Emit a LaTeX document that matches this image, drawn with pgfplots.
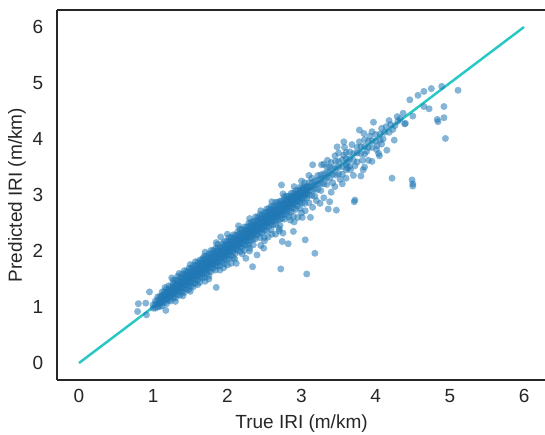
\documentclass[border=0pt]{standalone}
\usepackage{fontspec}
\setmainfont{Liberation Sans}
\usepackage{pgfplots}
\pgfplotsset{compat=1.18}
\definecolor{dotblue}{HTML}{1F77B4}
\definecolor{diag}{HTML}{2AC8C4}
\definecolor{ink}{HTML}{262626}
\begin{document}
\begin{tikzpicture}
\begin{axis}[
  scale only axis,
  width=489.5pt, height=369.6pt,
  xmin=-0.3, xmax=6.3,
  ymin=-0.3, ymax=6.3,
  xtick={0,1,...,6}, ytick={0,1,...,6},
  axis lines*=left,
  axis line style={ink, line width=2.5pt},
  major tick length=0pt,
  /pgf/number format/assume math mode=true,
  tick label style={font=\fontsize{19}{22}\selectfont, text=ink},
  label style={font=\fontsize{19}{22}\selectfont, text=ink},
  xticklabel style={yshift=-6pt},
  yticklabel style={xshift=-10pt},
  xlabel={True IRI (m/km)},
  ylabel={Predicted IRI (m/km)},
  xlabel style={yshift=-5pt},
  ylabel style={yshift=0pt},
  clip=false,
]
% scatter: true vs predicted
\addplot[only marks, color=dotblue, mark=*, mark size=3.5pt,
  mark options={draw opacity=0, fill=dotblue, fill opacity=0.55}] coordinates {
(1.00,0.98) (1.00,1.04) (1.03,0.98) (1.03,1.05) (1.03,1.11)
(1.06,1.00) (1.06,1.06) (1.06,1.12) (1.06,1.18)
(1.09,1.01) (1.09,1.07) (1.09,1.13) (1.09,1.19)
(1.12,1.02) (1.12,1.09) (1.12,1.15) (1.12,1.21) (1.12,1.27)
(1.15,1.08) (1.15,1.15) (1.15,1.21) (1.15,1.27)
(1.18,1.06) (1.18,1.13) (1.18,1.20) (1.18,1.26) (1.18,1.32)
(1.21,1.12) (1.21,1.19) (1.21,1.25) (1.21,1.31) (1.21,1.38)
(1.24,1.11) (1.24,1.18) (1.24,1.24) (1.24,1.30) (1.24,1.36)
(1.27,1.17) (1.27,1.24) (1.27,1.30) (1.27,1.36) (1.27,1.42) (1.27,1.48)
(1.30,1.16) (1.30,1.23) (1.30,1.30) (1.30,1.36) (1.30,1.42) (1.30,1.48)
(1.33,1.22) (1.33,1.29) (1.33,1.35) (1.33,1.41) (1.33,1.47) (1.33,1.55)
(1.36,1.21) (1.36,1.28) (1.36,1.35) (1.36,1.41) (1.36,1.47) (1.36,1.53)
(1.39,1.27) (1.39,1.34) (1.39,1.41) (1.39,1.47) (1.39,1.53) (1.39,1.59)
(1.42,1.26) (1.42,1.33) (1.42,1.40) (1.42,1.46) (1.42,1.52) (1.42,1.58) (1.42,1.65)
(1.45,1.32) (1.45,1.39) (1.45,1.46) (1.45,1.52) (1.45,1.58) (1.45,1.64)
(1.48,1.31) (1.48,1.38) (1.48,1.45) (1.48,1.51) (1.48,1.57) (1.48,1.63) (1.48,1.69)
(1.51,1.37) (1.51,1.44) (1.51,1.51) (1.51,1.57) (1.51,1.63) (1.51,1.69)
(1.54,1.36) (1.54,1.43) (1.54,1.50) (1.54,1.56) (1.54,1.62) (1.54,1.68) (1.54,1.74)
(1.57,1.42) (1.57,1.49) (1.57,1.56) (1.57,1.62) (1.57,1.68) (1.57,1.74) (1.57,1.81)
(1.60,1.48) (1.60,1.55) (1.60,1.62) (1.60,1.68) (1.60,1.74) (1.60,1.80)
(1.63,1.44) (1.63,1.53) (1.63,1.60) (1.63,1.66) (1.63,1.72) (1.63,1.78) (1.63,1.84)
(1.66,1.52) (1.66,1.59) (1.66,1.66) (1.66,1.72) (1.66,1.78) (1.66,1.84)
(1.69,1.53) (1.69,1.60) (1.69,1.67) (1.69,1.73) (1.69,1.79) (1.69,1.85) (1.69,1.91)
(1.72,1.59) (1.72,1.66) (1.72,1.73) (1.72,1.79) (1.72,1.85) (1.72,1.91)
(1.75,1.55) (1.75,1.64) (1.75,1.71) (1.75,1.77) (1.75,1.83) (1.75,1.89) (1.75,1.95)
(1.78,1.63) (1.78,1.70) (1.78,1.77) (1.78,1.83) (1.78,1.89) (1.78,1.95) (1.78,2.01)
(1.81,1.69) (1.81,1.76) (1.81,1.83) (1.81,1.89) (1.81,1.95) (1.81,2.01)
(1.84,1.66) (1.84,1.74) (1.84,1.81) (1.84,1.87) (1.84,1.93) (1.84,1.99) (1.84,2.05)
(1.87,1.73) (1.87,1.80) (1.87,1.87) (1.87,1.93) (1.87,1.99) (1.87,2.05) (1.87,2.12)
(1.90,1.74) (1.90,1.81) (1.90,1.88) (1.90,1.94) (1.90,2.00) (1.90,2.06)
(1.93,1.81) (1.93,1.88) (1.93,1.95) (1.93,2.01) (1.93,2.07) (1.93,2.13)
(1.96,1.77) (1.96,1.85) (1.96,1.92) (1.96,1.98) (1.96,2.04) (1.96,2.10) (1.96,2.17)
(1.99,1.85) (1.99,1.92) (1.99,1.99) (1.99,2.05) (1.99,2.11) (1.99,2.17)
(2.02,1.86) (2.02,1.93) (2.02,2.00) (2.02,2.06) (2.02,2.12) (2.02,2.18) (2.02,2.24)
(2.05,1.92) (2.05,1.99) (2.05,2.06) (2.05,2.12) (2.05,2.18) (2.05,2.24)
(2.08,1.88) (2.08,1.98) (2.08,2.05) (2.08,2.11) (2.08,2.17) (2.08,2.23) (2.08,2.29)
(2.11,1.96) (2.11,2.03) (2.11,2.10) (2.11,2.16) (2.11,2.22) (2.11,2.28)
(2.14,2.02) (2.14,2.09) (2.14,2.16) (2.14,2.22) (2.14,2.28) (2.14,2.34)
(2.17,1.99) (2.17,2.07) (2.17,2.14) (2.17,2.20) (2.17,2.26) (2.17,2.32) (2.17,2.39)
(2.20,2.06) (2.20,2.13) (2.20,2.20) (2.20,2.26) (2.20,2.32) (2.20,2.38)
(2.23,2.01) (2.23,2.11) (2.23,2.19) (2.23,2.25) (2.23,2.31) (2.23,2.37) (2.23,2.43)
(2.26,2.11) (2.26,2.18) (2.26,2.25) (2.26,2.31) (2.26,2.37) (2.26,2.43)
(2.29,2.11) (2.29,2.19) (2.29,2.26) (2.29,2.32) (2.29,2.38) (2.29,2.44) (2.29,2.50)
(2.32,2.19) (2.32,2.26) (2.32,2.33) (2.32,2.39) (2.32,2.45) (2.32,2.51)
(2.35,2.11) (2.35,2.21) (2.35,2.29) (2.35,2.35) (2.35,2.41) (2.35,2.47) (2.35,2.53)
(2.38,2.22) (2.38,2.29) (2.38,2.36) (2.38,2.42) (2.38,2.48) (2.38,2.54) (2.38,2.61)
(2.41,2.29) (2.41,2.36) (2.41,2.43) (2.41,2.49) (2.41,2.55) (2.41,2.61)
(2.44,2.24) (2.44,2.33) (2.44,2.40) (2.44,2.46) (2.44,2.52) (2.44,2.58) (2.44,2.65)
(2.47,2.32) (2.47,2.39) (2.47,2.46) (2.47,2.52) (2.47,2.58) (2.47,2.64)
(2.50,2.24) (2.50,2.37) (2.50,2.44) (2.50,2.51) (2.50,2.57) (2.50,2.63) (2.50,2.69)
(2.53,2.36) (2.53,2.44) (2.53,2.51) (2.53,2.57) (2.53,2.63) (2.53,2.69) (2.53,2.75)
(2.56,2.44) (2.56,2.51) (2.56,2.58) (2.56,2.64) (2.56,2.70) (2.56,2.76)
(2.59,2.38) (2.59,2.48) (2.59,2.55) (2.59,2.62) (2.59,2.68) (2.59,2.74) (2.59,2.80)
(2.62,2.47) (2.62,2.54) (2.62,2.61) (2.62,2.67) (2.62,2.73) (2.62,2.79)
(2.65,2.47) (2.65,2.55) (2.65,2.62) (2.65,2.68) (2.65,2.74) (2.65,2.80) (2.65,2.87)
(2.68,2.55) (2.68,2.62) (2.68,2.69) (2.68,2.75) (2.68,2.81) (2.68,2.87)
(2.71,2.46) (2.71,2.57) (2.71,2.65) (2.71,2.71) (2.71,2.77) (2.71,2.83) (2.71,2.89)
(2.74,2.58) (2.74,2.65) (2.74,2.72) (2.74,2.78) (2.74,2.84) (2.74,2.90)
(2.77,2.57) (2.77,2.66) (2.77,2.73) (2.77,2.79) (2.77,2.85) (2.77,2.91) (2.77,2.97)
(2.80,2.65) (2.80,2.73) (2.80,2.80) (2.80,2.86) (2.80,2.92) (2.80,2.98)
(2.83,2.61) (2.83,2.71) (2.83,2.79) (2.83,2.86) (2.83,2.92) (2.83,2.98)
(2.86,2.70) (2.86,2.78) (2.86,2.85) (2.86,2.91) (2.86,2.97) (2.86,3.03)
(2.89,2.62) (2.89,2.76) (2.89,2.84) (2.89,2.91) (2.89,2.97) (2.89,3.03)
(2.92,2.74) (2.92,2.83) (2.92,2.90) (2.92,2.96) (2.92,3.02) (2.92,3.08)
(2.95,2.81) (2.95,2.89) (2.95,2.96) (2.95,3.02) (2.95,3.08)
(2.98,2.76) (2.98,2.88) (2.98,2.95) (2.98,3.02) (2.98,3.08) (2.98,3.14)
(3.01,2.86) (3.01,2.94) (3.01,3.01) (3.01,3.07) (3.01,3.13)
(3.04,2.85) (3.04,2.95) (3.04,3.02) (3.04,3.09) (3.04,3.15) (3.04,3.22)
(3.07,2.94) (3.07,3.02) (3.07,3.09) (3.07,3.15)
(3.10,2.86) (3.10,3.00) (3.10,3.08) (3.10,3.15) (3.10,3.22)
(3.14,2.99) (3.14,3.08) (3.14,3.15) (3.14,3.22) (3.14,3.30)
(3.18,2.98) (3.18,3.10) (3.18,3.18) (3.18,3.25)
(3.22,3.10) (3.22,3.19) (3.22,3.27) (3.22,3.35)
(3.26,3.08) (3.26,3.20) (3.26,3.28) (3.26,3.36)
(3.30,3.20) (3.30,3.30) (3.30,3.38)
(3.34,3.19) (3.34,3.31) (3.34,3.40) (3.34,3.50)
(3.38,3.30) (3.38,3.40) (3.38,3.50)
(3.42,3.22) (3.42,3.37) (3.42,3.47)
(3.46,3.36) (3.46,3.48) (3.46,3.60)
(3.50,3.38) (3.50,3.50) (3.50,3.60)
(3.55,3.37) (3.55,3.51) (3.55,3.63)
(3.60,3.54) (3.60,3.65) (3.60,3.76)
(3.65,3.51) (3.65,3.65) (3.65,3.77)
(3.70,3.62) (3.70,3.74)
(3.75,3.59) (3.75,3.75) (3.75,3.85)
(3.80,3.74) (3.80,3.86)
(3.85,3.73) (3.85,3.87) (3.85,3.99)
(3.90,3.85) (3.90,3.96)
(3.95,3.85) (3.95,3.97)
(4.00,3.96) (4.00,4.08)
(4.06,3.98) (4.06,4.09)
(4.12,4.12) (4.18,4.12) (4.30,4.32)
(1.11,1.08) (1.11,1.18) (1.15,1.12) (1.15,1.22) (1.19,1.16) (1.19,1.26)
(1.23,1.20) (1.23,1.30) (1.27,1.24) (1.27,1.34) (1.31,1.28) (1.31,1.38)
(1.35,1.32) (1.35,1.42) (1.39,1.36) (1.39,1.46) (1.43,1.40) (1.43,1.50)
(1.47,1.44) (1.47,1.54) (1.51,1.48) (1.51,1.58) (1.55,1.52) (1.55,1.62)
(1.59,1.56) (1.59,1.66) (1.63,1.60) (1.63,1.70) (1.67,1.64) (1.67,1.74)
(1.71,1.68) (1.71,1.78) (1.75,1.72) (1.75,1.82) (1.79,1.76) (1.79,1.86)
(1.83,1.80) (1.83,1.90) (1.87,1.84) (1.87,1.94) (1.91,1.88) (1.91,1.98)
(1.95,1.92) (1.95,2.02) (1.99,1.96) (1.99,2.06) (2.03,2.00) (2.03,2.10)
(2.07,2.04) (2.07,2.14) (2.11,2.08) (2.11,2.18) (2.15,2.12) (2.15,2.22)
(2.19,2.16) (2.19,2.26) (2.23,2.20) (2.23,2.30) (2.27,2.24) (2.27,2.34)
(2.31,2.28) (2.31,2.38) (2.35,2.32) (2.35,2.42) (2.39,2.36) (2.39,2.46)
(2.43,2.40) (2.43,2.50) (2.47,2.44) (2.47,2.54) (2.51,2.48) (2.51,2.58)
(2.55,2.52) (2.55,2.62) (2.59,2.56) (2.59,2.66) (2.63,2.60) (2.63,2.70)
(2.67,2.64) (2.67,2.74) (2.71,2.68) (2.71,2.78) (2.75,2.72) (2.75,2.82)
(2.79,2.76) (2.79,2.86) (2.83,2.80) (2.83,2.90) (2.87,2.84) (2.87,2.94)
(2.91,2.88) (2.91,2.98) (2.95,2.92) (2.95,3.02) (2.99,2.96) (2.99,3.06)
(3.03,3.00) (3.03,3.10) (3.07,3.04) (3.07,3.14)
(2.30,2.05) (2.45,2.10) (2.55,2.25) (2.65,2.30) (2.70,2.40) (2.85,2.55)
(2.95,2.60) (3.05,2.72) (3.15,2.78) (3.25,2.85) (3.30,2.95) (1.95,1.70)
(2.05,1.78) (1.75,1.50) (1.60,1.40) (1.40,1.20) (2.00,1.75) (2.20,1.95)
(2.60,2.30) (3.20,2.90) (3.40,3.05) (3.45,3.15) (3.55,3.20) (3.60,3.30)
(3.70,3.35) (3.85,3.50) (3.95,3.60) (4.05,3.70) (4.15,3.80) (3.90,3.62)
(3.60,3.45)
(1.50,1.76) (1.70,1.98) (1.85,2.15) (2.00,2.30) (2.15,2.45) (2.30,2.58)
(2.45,2.72) (2.60,2.88) (2.75,3.02) (2.90,3.15) (3.00,3.25) (3.10,3.35)
(1.35,1.60) (1.25,1.52) (1.50,1.28) (1.70,1.46) (1.90,1.66) (2.10,1.86)
(2.30,2.00) (2.50,2.18) (2.70,2.36) (2.90,2.52) (1.30,1.10) (3.00,2.68)
(3.35,3.62) (3.45,3.70) (3.52,3.28) (3.58,3.85) (3.68,3.90) (3.72,3.52)
(3.78,3.95) (3.88,3.78) (3.92,4.05) (3.40,3.58) (3.30,3.55) (3.50,3.75)
(3.62,3.58) (3.82,3.62) (4.02,3.88) (4.10,4.00) (4.14,4.22) (4.20,4.26)
(4.26,4.24) (4.33,4.36)
(1.91,2.25) (1.67,1.87) (2.73,3.18) (3.15,3.54) (3.27,3.54) (3.48,3.86)
(3.57,3.95) (3.57,3.71) (3.62,3.48) (3.66,3.45) (3.83,3.45) (3.80,3.34)
(4.04,3.74) (4.01,3.81) (4.08,3.91) (3.97,4.30) (3.78,4.16) (3.84,4.10)
(3.95,4.13) (4.18,4.33) (4.08,4.19) (4.23,4.17) (4.29,4.40) (4.37,4.46)
(4.39,4.27) (4.40,4.28) (4.50,4.41) (4.25,3.98)
(5.11,4.87) (4.89,4.94) (4.75,4.90) (4.65,4.85) (4.57,4.78) (4.46,4.70)
(4.65,4.58) (4.72,4.54) (4.92,4.58) (4.92,4.38) (4.83,4.35) (4.84,4.31)
(4.94,4.01) (4.22,3.30) (4.49,3.27) (4.50,3.16) (4.50,3.20)
(3.72,2.91) (3.71,2.88) (3.47,2.73) (3.36,2.75) (3.38,2.88) (3.12,2.60)
(3.01,2.60) (3.05,2.20) (3.18,1.96) (3.07,1.59) (2.72,1.68) (2.82,2.13)
(2.89,2.35) (2.75,2.32) (2.74,2.17) (2.49,2.05) (2.40,1.93) (2.34,1.72)
(2.25,1.87) (2.12,1.78) (1.85,1.35) (1.16,1.35) (0.95,1.27) (0.80,1.06)
(0.90,1.07) (0.79,0.92) (0.91,0.86) (1.17,0.94)
};
% identity line
\addplot[diag, line width=2.5pt] coordinates {(0,0) (6,6)};
\draw[ink, line width=2.5pt] (rel axis cs:0,1) -- (rel axis cs:1,1);
\end{axis}
\pgfresetboundingbox
\path[use as bounding box]
  ([xshift=-56.75pt, yshift=-54.2pt]current axis.south west)
  rectangle ([xshift=-1.3pt, yshift=10.2pt]current axis.north east);
\end{tikzpicture}
\end{document}
